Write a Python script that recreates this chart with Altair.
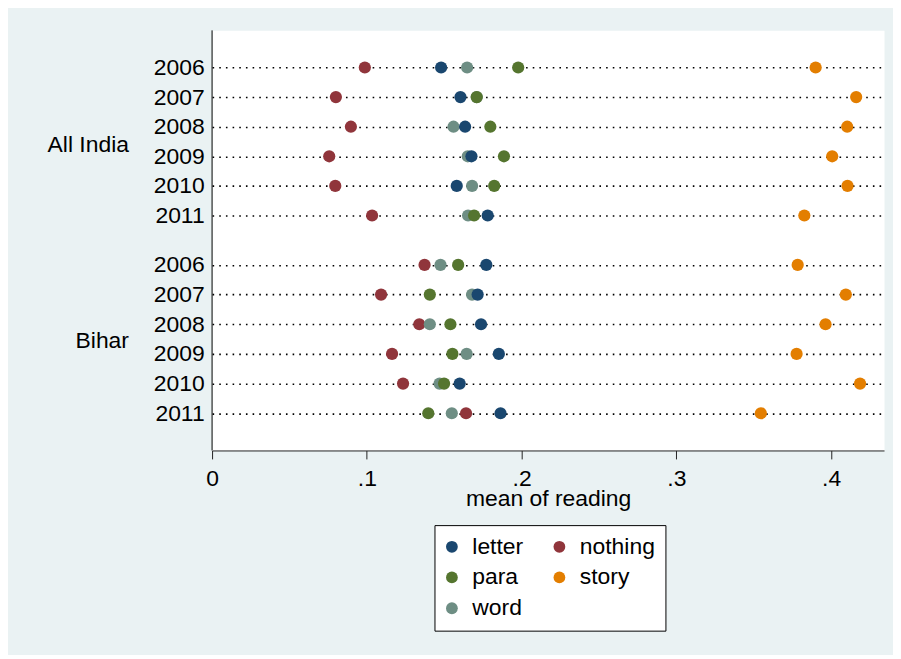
import altair as alt
import pandas as pd

years = ["2006", "2007", "2008", "2009", "2010", "2011"]
series = ["letter", "nothing", "para", "story", "word"]
colors = ["#1A476F", "#90353B", "#55752F", "#E37E00", "#6E8E84"]
draw_order = ["nothing", "story", "word", "para", "letter"]

ai_letter = [0.1480, 0.1605, 0.1635, 0.1676, 0.1581, 0.1781]
ai_nothing = [0.0987, 0.0800, 0.0897, 0.0757, 0.0796, 0.1034]
ai_para = [0.1978, 0.1710, 0.1798, 0.1886, 0.1823, 0.1693]
ai_story = [0.3900, 0.4162, 0.4104, 0.4007, 0.4106, 0.3827]
ai_word = [0.1648, 0.1710, 0.1560, 0.1652, 0.1680, 0.1654]

bihar_letter = [0.1772, 0.1716, 0.1738, 0.1853, 0.1600, 0.1864]
bihar_nothing = [0.1373, 0.1092, 0.1339, 0.1163, 0.1234, 0.1641]
bihar_para = [0.1590, 0.1407, 0.1540, 0.1553, 0.1499, 0.1397]
bihar_story = [0.3784, 0.4095, 0.3964, 0.3777, 0.4187, 0.3546]
bihar_word = [0.1476, 0.1680, 0.1407, 0.1645, 0.1470, 0.1549]

groups = {
    "All India": {"letter": ai_letter, "nothing": ai_nothing, "para": ai_para,
                  "story": ai_story, "word": ai_word},
    "Bihar": {"letter": bihar_letter, "nothing": bihar_nothing, "para": bihar_para,
              "story": bihar_story, "word": bihar_word},
}


def frame(group):
    rows = []
    for s in draw_order:
        for y, v in zip(years, groups[group][s]):
            rows.append({"group": group, "year": y, "series": s, "value": v})
    return pd.DataFrame(rows)


FONT = "Liberation Sans, Arial, Helvetica, sans-serif"
FS = 23
W = 675
H = 422
XMAX = 0.4342

legend = alt.Legend(
    title=None, orient="none", legendX=223.4, legendY=497,
    columns=2, direction="horizontal",
    symbolType="circle", symbolSize=140, symbolStrokeWidth=0, symbolOffset=-4,
    labelFontSize=FS, labelFont=FONT, labelColor="black",
    labelOffset=9, columnPadding=28, rowPadding=7, padding=10,
    strokeColor="black", fillColor="white",
)

color = alt.Color("series:N", scale=alt.Scale(domain=series, range=colors), legend=legend)

xaxis = alt.Axis(
    values=[0, 0.1, 0.2, 0.3, 0.4],
    labelExpr="datum.value == 0 ? '0' : replace(format(datum.value, '.1f'), '0.', '.')",
    labelFlush=False,
    title="mean of reading", titleFontSize=FS, titleFont=FONT, titleFontWeight="normal",
    titleColor="black", titleBaseline="top", titleY=37,
    labelFontSize=FS, labelFont=FONT, labelColor="black", labelPadding=9,
    tickSize=8.5, tickColor="#222", domainColor="#222", domainWidth=1, tickWidth=1,
    grid=False,
)


def panel(group, yrange, title_y):
    yaxis = alt.Axis(
        orient="left",
        title=group, titleAngle=0, titleAlign="right", titleBaseline="middle",
        titleX=-84, titleY=title_y, titleFontSize=FS, titleFont=FONT,
        titleFontWeight="normal", titleColor="black",
        labelFontSize=FS, labelFont=FONT, labelColor="black", labelPadding=8,
        ticks=False, tickSize=0, domain=False,
        grid=True, gridColor="black", gridWidth=1.6, gridDash=[1.6, 5.1],
    )
    return alt.Chart(frame(group)).mark_circle(size=150, opacity=1).encode(
        x=alt.X("value:Q", scale=alt.Scale(domain=[0, XMAX], nice=False, zero=True), axis=xaxis),
        y=alt.Y("year:O", scale=alt.Scale(type="point", domain=years, range=yrange, padding=0),
                axis=yaxis),
        color=color,
    )


top = panel("All India", [37.3, 186.0], 114.6)
bottom = panel("Bihar", [235.6, 384.6], 311.6)

yline = alt.Chart(pd.DataFrame({"axis": ["y"]})).mark_rule(color="black", strokeWidth=1).encode(
    x=alt.value(0), y=alt.value(0), y2=alt.value(H)
)

chart = alt.layer(top, bottom, yline).resolve_scale(y="independent").properties(
    width=W, height=H,
    background="#EAF2F3",
    autosize=alt.AutoSizeParams(type="none"),
    padding={"left": 205, "top": 21, "right": 9, "bottom": 204},
).configure_view(fill="white", stroke="transparent")

chart.save("out.html", embed_options={"renderer": "svg", "actions": False})
